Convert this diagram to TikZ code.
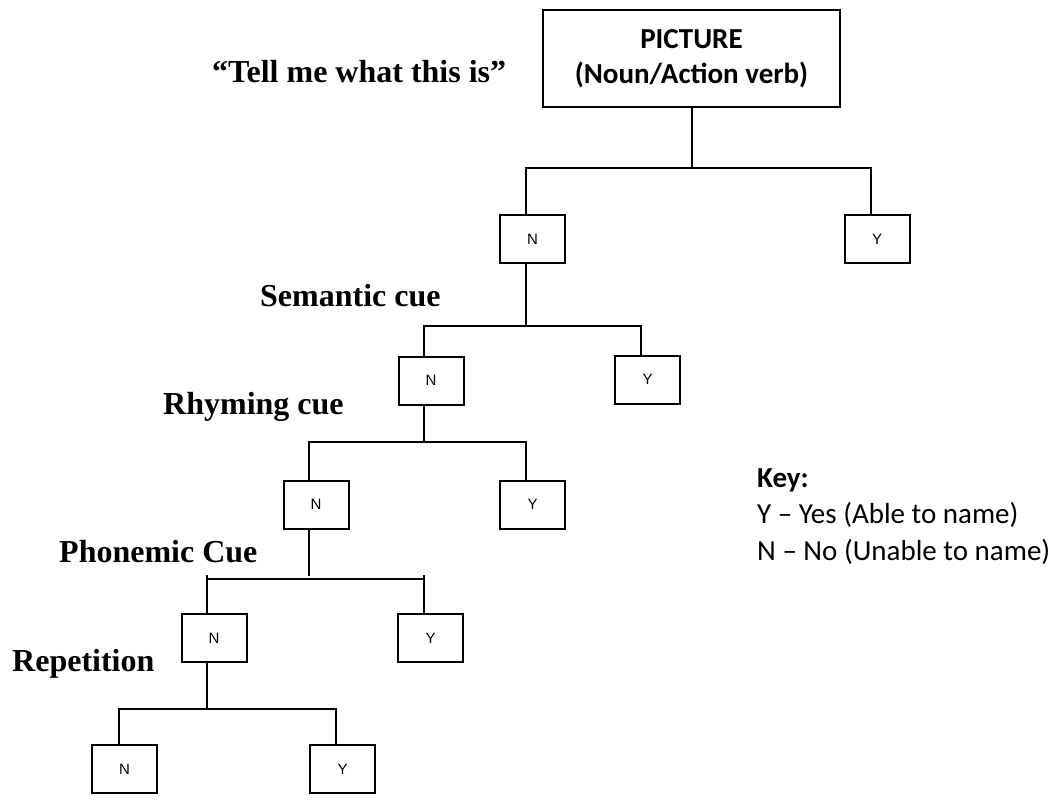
\documentclass[tikz,border=0pt]{standalone}
\usepackage{fontspec}
\setmainfont{Liberation Serif}
\newfontfamily\calfont{Carlito}
\newfontfamily\arialfont{Liberation Sans}
\begin{document}
\begin{tikzpicture}[x=1pt,y=-1pt,
  yn/.style={draw=black,line width=2pt,minimum width=65pt,minimum height=48pt,inner sep=0pt,font=\arialfont\fontsize{15}{18}\selectfont},
  cue/.style={anchor=base west,inner sep=0pt,font=\fontsize{32}{38}\selectfont\bfseries},
  keytext/.style={anchor=base west,inner sep=0pt,font=\calfont\fontsize{29}{36}\selectfont},
  conn/.style={line width=2pt}]
\useasboundingbox (0,0) rectangle (1059,801);
\fill[white] (0,0) rectangle (1059,801);

% top box
\node[draw=black,line width=2pt,minimum width=297pt,minimum height=97pt,inner sep=0pt] (pic) at (691.5,58.5) {};
\node[anchor=base,inner sep=0pt,font=\calfont\bfseries\fontsize{29}{35}\selectfont] (pict1) at (691.5,48) {PICTURE};
\node[anchor=base,inner sep=0pt,font=\calfont\bfseries\fontsize{29}{35}\selectfont] (pict2) at (691.5,83) {(Noun/Action verb)};

% labels
\node[cue] (tell) at (212,82) {“Tell me what this is”};
\node[cue] (sem) at (260,306) {Semantic cue};
\node[cue] (rhy) at (163,414) {Rhyming cue};
\node[cue] (pho) at (59,562) {Phonemic Cue};
\node[cue] (rep) at (12,671) {Repetition};

% key
\node[keytext,font=\calfont\bfseries\fontsize{29}{36}\selectfont] (key) at (757,487) {Key:};
\node[keytext] (keyy) at (757,523) {Y – Yes (Able to name)};
\node[keytext] (keyn) at (757,560) {N – No (Unable to name)};

% boxes
\node[yn] (n1) at (532.5,239) {N};
\node[yn] (y1) at (877,239) {Y};
\node[yn] (n2) at (431,380.5) {N};
\node[yn] (y2) at (647.5,379.5) {Y};
\node[yn] (n3) at (316,504.5) {N};
\node[yn] (y3) at (532.5,504.5) {Y};
\node[yn] (n4) at (214,638) {N};
\node[yn] (y4) at (430.5,638) {Y};
\node[yn] (n5) at (124.5,769) {N};
\node[yn] (y5) at (342.5,769) {Y};

% junction coordinates
\coordinate (j0) at (692,168);
\coordinate (l0) at (526,168);
\coordinate (r0) at (871,168);
\coordinate (j1) at (526,326);
\coordinate (l1) at (424,326);
\coordinate (r1) at (641,326);
\coordinate (j2) at (424,442);
\coordinate (l2) at (309,442);
\coordinate (r2) at (526,442);
\coordinate (j3) at (309,576);
\coordinate (l3) at (207,579);
\coordinate (r3) at (424,579);
\coordinate (lt3) at (207,575);
\coordinate (rt3) at (424,575);
\coordinate (j4) at (207,709);
\coordinate (l4) at (119,709);
\coordinate (r4) at (336,709);

% connectors
\draw[conn] (pic.south -| j0) -- (j0);
\draw[conn] (n1.north -| l0) -- (l0) -- (r0) -- (y1.north -| r0);
\draw[conn] (n1.south -| j1) -- (j1);
\draw[conn] (n2.north -| l1) -- (l1) -- (r1) -- (y2.north -| r1);
\draw[conn] (n2.south -| j2) -- (j2);
\draw[conn] (n3.north -| l2) -- (l2) -- (r2) -- (y3.north -| r2);
\draw[conn] (n3.south -| j3) -- (j3);
\draw[conn] (l3) -- (r3);
\draw[conn] (lt3) -- (n4.north -| lt3);
\draw[conn] (rt3) -- (y4.north -| rt3);
\draw[conn] (n4.south -| j4) -- (j4);
\draw[conn] (n5.north -| l4) -- (l4) -- (r4) -- (y5.north -| r4);
\end{tikzpicture}
\end{document}
